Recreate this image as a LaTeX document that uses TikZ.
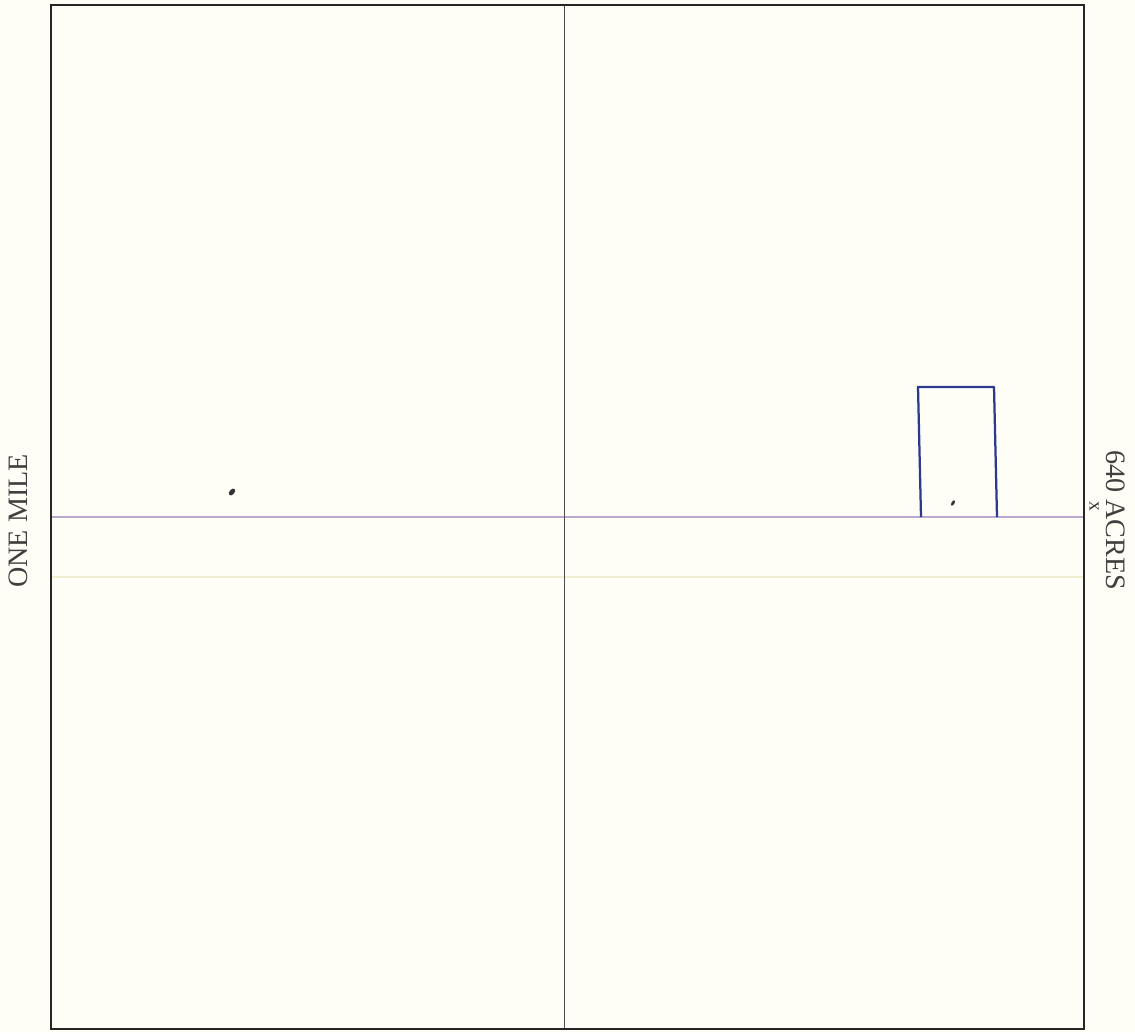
\documentclass[tikz,border=0pt]{standalone}
\usepackage{fontspec}
\setmainfont{Liberation Serif}
\usepackage{xcolor}
\usetikzlibrary{positioning}
\definecolor{paper}{HTML}{FFFEF6}
\definecolor{inkblue}{HTML}{2A3A8E}
\definecolor{lavline}{HTML}{BBA8CF}
\definecolor{yelline}{HTML}{F1EDCF}
\tikzset{
  framebox/.style={draw=black!85,line width=1.3pt},
  midline/.style={draw=black!70,line width=0.6pt},
  penline/.style={draw=lavline,line width=0.8pt},
  fadeline/.style={draw=yelline,line width=1.2pt},
  lotbox/.style={draw=inkblue,line width=1.6pt},
  sidelabel/.style={font=\fontsize{20}{20}\selectfont,text=black!75,inner sep=0pt},
  speck/.style={fill=black!80,draw=none},
}
\begin{document}
\begin{tikzpicture}[x=0.025cm,y=-0.025cm]
  \fill[paper] (0,0) rectangle (1135,1033);
  \useasboundingbox (0,0) rectangle (1135,1033);
  % section corners and quarter lines
  \coordinate (nw) at (51,5);
  \coordinate (se) at (1084,1029);
  \coordinate (nmid) at (564,5);
  \coordinate (smid) at (564,1029);
  \coordinate (wline) at (51,517);
  \coordinate (eline) at (1084,517);
  \coordinate (wfade) at (51,577);
  \coordinate (efade) at (1084,577);
  \draw[fadeline] (wfade) -- (efade);
  \draw[penline] (wline) -- (eline);
  \draw[midline] (nmid) -- (smid);
  \draw[framebox] (nw) rectangle (se);
  % small lot
  \coordinate (lotsw) at (921,517);
  \coordinate (lotnw) at (918,387);
  \coordinate (lotne) at (994,387);
  \coordinate (lotse) at (997,517);
  \draw[lotbox,line join=round] (lotsw) -- (lotnw) -- (lotne) -- (lotse);
  % labels
  \node[sidelabel,rotate=90] (onemile) at (18,521) {ONE MILE};
  \node[sidelabel,rotate=-90] (acres) at (1116,520) {640 ACRES};
  \node[font=\fontsize{14}{14}\selectfont,text=black!80,inner sep=0pt,rotate=-90] (xmark) at (1094,506) {x};
  % ink specks
  \fill[speck,rotate around={50:(232,492)}] (232,492) ellipse (4 and 2.5);
  \fill[speck,rotate around={60:(953,503)}] (953,503) ellipse (3 and 1.5);
\end{tikzpicture}
\end{document}
